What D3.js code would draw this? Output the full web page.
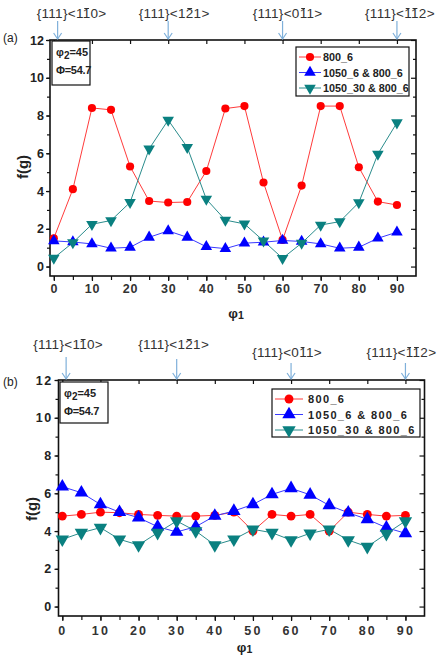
<!DOCTYPE html>
<html>
<head>
<meta charset="utf-8">
<script src="https://cdn.jsdelivr.net/npm/d3@7"></script>
<style>
body { margin: 0; background: #fff; }
svg { display: block; }
</style>
</head>
<body>
<svg id="chart" width="445" height="655"></svg>
<script>
// phi1 angles (x values), shared by both panels
const phi1 = [0, 5, 10, 15, 20, 25, 30, 35, 40, 45, 50, 55, 60, 65, 70, 75, 80, 85, 90]

// panel (a): phi2 = 45, Phi = 54.7
const a800 = [1.5, 4.1, 8.4, 8.3, 5.3, 3.47, 3.39, 3.42, 5.06, 8.37, 8.5, 4.45, 1.41, 4.29, 8.5, 8.5, 5.26, 3.44, 3.26]
const a1050_6 = [1.36, 1.3, 1.2, 0.97, 1.02, 1.55, 1.89, 1.55, 1.05, 0.95, 1.24, 1.29, 1.38, 1.33, 1.2, 0.97, 1.02, 1.5, 1.82]
const a1050_30 = [0.45, 1.27, 2.24, 2.44, 3.4, 6.23, 7.76, 6.32, 3.57, 2.46, 2.26, 1.36, 0.44, 1.24, 2.2, 2.38, 3.39, 5.96, 7.62]

// panel (b)
const b800 = [4.79, 4.88, 5.0, 4.97, 4.88, 4.83, 4.79, 4.79, 4.83, 5.0, 4.0, 4.88, 4.79, 4.88, 4.0, 5.0, 4.88, 4.79, 4.83]
const b1050_6 = [6.35, 6.03, 5.41, 5.0, 4.71, 4.23, 3.95, 4.23, 4.8, 5.06, 5.41, 5.94, 6.26, 5.92, 5.36, 4.97, 4.62, 4.18, 3.88]
const b1050_30 = [3.56, 3.91, 4.18, 3.56, 3.26, 3.91, 4.53, 4.0, 3.26, 3.56, 4.09, 3.91, 3.52, 3.88, 4.09, 3.52, 3.17, 3.86, 4.53]

const seriesNames = ["800_6", "1050_6 & 800_6", "1050_30 & 800_6"]
const xTicks = [0, 10, 20, 30, 40, 50, 60, 70, 80, 90]
const yTicks = [0, 2, 4, 6, 8, 10, 12]

// orientation markers: "!" puts a bar over the next digit
const orientLabels = ["{111}<1!10>", "{111}<1!21>", "{111}<0!11>", "{111}<!1!12>"]
const orientPhi = [1, 30, 60, 90]

const colors = ["#ff0000", "#0000ff", "#0a8080"]
const lineColors = ["#ff3b3b", "#3a3aff", "#2a8c8c"]
const symbols = [d3.symbolCircle, d3.symbolTriangle, d3.symbolTriangle]

const svg = d3.select("#chart")

const panels = [
    {
        tag: "(a)", values: [a800, a1050_6, a1050_30],
        left: 50, right: 416, top: 40, bottom: 276,
        spacing: 0, mSize: [52, 58, 58],
        labelY: [18, 18, 18, 18], arrowTop: [21, 21, 21, 21], labelDx: [14, 6, 5, 3],
        legend: {x: 296, y: 47, w: 113, h: 49, lx0: 3, lx1: 25, tx: 27, fs: 10.8, ls: 0},
        inset: {x: 52, y: 41, w: 38, h: 44, phiT: "54.7"},
        fgY: 167, phiLabelY: 318, tickLabelY: 293, tagY: 42
    },
    {
        tag: "(b)", values: [b800, b1050_6, b1050_30],
        left: 58.5, right: 424.5, top: 380, bottom: 616,
        spacing: 1.4, mSize: [62, 78, 78],
        labelY: [349, 349, 357, 357], arrowTop: [357, 359, 363, 363], labelDx: [2, -3, -4, -4],
        legend: {x: 272, y: 389, w: 148, h: 48, lx0: 3, lx1: 31, tx: 36, fs: 11, ls: 1.35},
        inset: {x: 60, y: 382, w: 48, h: 41, phiT: "54.7"},
        fgY: 509, phiLabelY: 652, tickLabelY: 635, tagY: 386
    }
]

function drawOrientLabel(g, str, x, y) {
    let parts = []
    for (let i = 0; i < str.length; i++) {
        if (str[i] == "!") { parts.push({c: str[i + 1], bar: true}); i++ }
        else parts.push({c: str[i], bar: false})
    }
    let t = g.append("text")
        .attr("x", x).attr("y", y)
        .attr("text-anchor", "middle")
        .style("font-family", "'Liberation Sans', Arial, sans-serif")
        .style("font-size", "13.5px")
        .style("letter-spacing", "0.3px")
        .attr("fill", "#333")
        .text(parts.map(d => d.c).join(""))
    let node = t.node()
    parts.forEach((p, i) => {
        if (!p.bar) return
        let b = node.getExtentOfChar(i)
        g.append("line")
            .attr("x1", b.x + 1.5).attr("x2", b.x + b.width - 1.5)
            .attr("y1", b.y + 2.5).attr("y2", b.y + 2.5)
            .attr("stroke", "#333").attr("stroke-width", 1)
    })
}

function drawPanel(p) {
    let g = svg.append("g")

    let x = d3.scaleLinear().domain([-1, 95]).range([p.left, p.right])
    let y = d3.scaleLinear().domain([-0.5, 12]).range([p.bottom, p.top])

    let fontBold = "'Liberation Sans', Arial, sans-serif"

    // axes
    g.append("g").attr("transform", `translate(0,${p.bottom})`)
        .call(d3.axisBottom(x).tickValues(d3.range(0, 95, 5)).tickSize(4).tickFormat(""))
        .call(a => a.select(".domain").remove())
    g.append("g").attr("transform", `translate(0,${p.bottom})`)
        .call(d3.axisBottom(x).tickValues(xTicks).tickSize(5).tickPadding(6))
        .call(a => a.select(".domain").remove())
        .call(a => a.selectAll("text").attr("dy", null)
            .attr("y", p.tickLabelY - p.bottom)
            .style("font-family", fontBold).style("font-weight", "bold")
            .style("font-size", "12.5px").style("letter-spacing", (p.spacing + 0.8) + "px")
            .attr("fill", "#333"))

    g.append("g").attr("transform", `translate(${p.left},0)`)
        .call(d3.axisLeft(y).tickValues(d3.range(0, 13, 1)).tickSize(3).tickFormat(""))
        .call(a => a.select(".domain").remove())
    g.append("g").attr("transform", `translate(${p.left},0)`)
        .call(d3.axisLeft(y).tickValues(yTicks).tickSize(4).tickPadding(2))
        .call(a => a.select(".domain").remove())
        .call(a => a.selectAll("text")
            .style("font-family", fontBold).style("font-weight", "bold")
            .style("font-size", "12.5px").style("letter-spacing", p.spacing + "px")
            .attr("fill", "#222"))

    // top and right inner ticks
    g.append("g").attr("transform", `translate(0,${p.top})`)
        .call(d3.axisTop(x).tickValues(xTicks).tickSize(-4).tickFormat(""))
        .call(a => a.select(".domain").remove())
    g.append("g").attr("transform", `translate(${p.right},0)`)
        .call(d3.axisRight(y).tickValues(yTicks).tickSize(-5).tickFormat(""))
        .call(a => a.select(".domain").remove())
    g.append("g").attr("transform", `translate(${p.right},0)`)
        .call(d3.axisRight(y).tickValues(d3.range(1, 12, 2)).tickSize(-3).tickFormat(""))
        .call(a => a.select(".domain").remove())

    g.selectAll(".tick line").attr("stroke", "#111").attr("stroke-width", 1.2)

    // frame
    g.append("rect")
        .attr("x", p.left).attr("y", p.top)
        .attr("width", p.right - p.left).attr("height", p.bottom - p.top)
        .attr("fill", "none").attr("stroke", "#111").attr("stroke-width", 1.6)

    // series lines and markers
    let line = d3.line().x((d, i) => x(phi1[i])).y(d => y(d))
    p.values.forEach((vals, s) => {
        g.append("path")
            .datum(vals)
            .attr("d", line)
            .attr("fill", "none")
            .attr("stroke", lineColors[s])
            .attr("stroke-width", 1)
    })
    p.values.forEach((vals, s) => {
        g.selectAll(null)
            .data(vals)
            .enter()
            .append("path")
            .attr("d", d3.symbol().type(symbols[s]).size(p.mSize[s]))
            .attr("transform", (d, i) => `translate(${x(phi1[i])},${y(d)})` + (s == 2 ? " rotate(180)" : ""))
            .attr("fill", colors[s])
    })

    // legend
    let L = p.legend
    g.append("rect").attr("x", L.x).attr("y", L.y).attr("width", L.w).attr("height", L.h)
        .attr("fill", "#fff").attr("stroke", "#111").attr("stroke-width", 1.2)
    seriesNames.forEach((name, s) => {
        let ly = L.y + 10 + s * 15.5
        g.append("line").attr("x1", L.x + L.lx0).attr("x2", L.x + L.lx1)
            .attr("y1", ly).attr("y2", ly)
            .attr("stroke", lineColors[s]).attr("stroke-width", 1)
        g.append("path")
            .attr("d", d3.symbol().type(symbols[s]).size(p.mSize[s]))
            .attr("transform", `translate(${L.x + (L.lx0 + L.lx1) / 2},${ly})` + (s == 2 ? " rotate(180)" : ""))
            .attr("fill", colors[s])
        g.append("text").attr("x", L.x + L.tx).attr("y", ly + 4)
            .style("font-family", fontBold).style("font-weight", "bold")
            .style("font-size", L.fs + "px").style("letter-spacing", L.ls + "px")
            .attr("fill", "#222")
            .text(name)
    })

    // inset with angles
    let I = p.inset
    g.append("rect").attr("x", I.x).attr("y", I.y).attr("width", I.w).attr("height", I.h)
        .attr("fill", "#fff").attr("stroke", "#111").attr("stroke-width", 1.2)
    let t1 = g.append("text").attr("x", I.x + 4).attr("y", I.y + 15)
        .style("font-family", fontBold).style("font-weight", "bold")
        .style("font-size", "11px").attr("fill", "#222")
    t1.append("tspan").text("φ")
    t1.append("tspan").attr("dy", 3).style("font-size", "10px").text("2")
    t1.append("tspan").attr("dy", -3).text("=45")
    g.append("text").attr("x", I.x + 4).attr("y", I.y + 33)
        .style("font-family", fontBold).style("font-weight", "bold")
        .style("font-size", "11px").style("letter-spacing", "-0.3px").attr("fill", "#222")
        .text("Φ=" + I.phiT)

    // axis titles
    g.append("text")
        .attr("transform", `translate(${p.left - 22},${p.fgY}) rotate(-90)`)
        .attr("text-anchor", "middle")
        .style("font-family", fontBold).style("font-weight", "bold")
        .style("font-size", "15px").attr("fill", "#222")
        .text("f(g)")
    let t2 = g.append("text")
        .attr("x", (p.left + p.right) / 2 + 3).attr("y", p.phiLabelY)
        .attr("text-anchor", "middle")
        .style("font-family", fontBold).style("font-weight", "bold")
        .style("font-size", "13.5px").attr("fill", "#222")
    t2.append("tspan").text("φ")
    t2.append("tspan").attr("dy", 1).style("font-size", "10.5px").text("1")

    // panel tag
    g.append("text").attr("x", 3).attr("y", p.tagY)
        .style("font-family", "'Liberation Sans', Arial, sans-serif")
        .style("font-size", "12px").attr("fill", "#222")
        .text(p.tag)

    // orientation arrows
    orientLabels.forEach((lab, i) => {
        let ax = x(orientPhi[i])
        drawOrientLabel(g, lab, ax + p.labelDx[i], p.labelY[i])
        let a = g.append("g").attr("stroke", "#7fb0da").attr("stroke-width", 1.2).attr("fill", "none")
        a.append("line").attr("x1", ax).attr("x2", ax).attr("y1", p.arrowTop[i]).attr("y2", p.top - 1)
        a.append("path").attr("d", `M${ax - 4},${p.top - 7}L${ax},${p.top - 1}L${ax + 4},${p.top - 7}`)
    })
}

panels.forEach(drawPanel)
</script>
</body>
</html>
